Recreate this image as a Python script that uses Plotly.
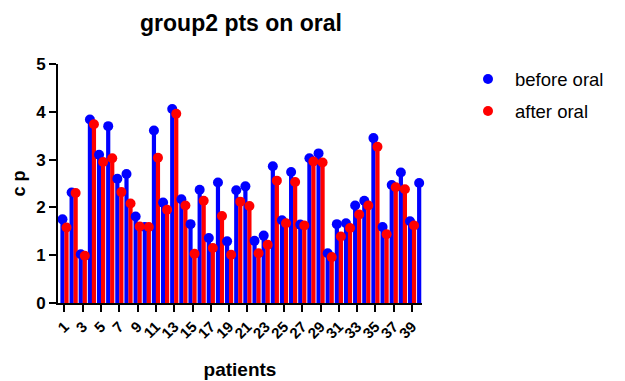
import plotly.graph_objects as go

patients = list(range(1, 41))
before_oral = [1.75, 2.31, 1.02, 3.84, 3.10, 3.70, 2.60, 2.70, 1.81, 1.59,
               3.61, 2.10, 4.06, 2.17, 1.65, 2.37, 1.36, 2.52, 1.29, 2.36,
               2.44, 1.30, 1.41, 2.86, 1.73, 2.74, 1.64, 3.03, 3.13, 1.04,
               1.65, 1.67, 2.04, 2.14, 3.45, 1.59, 2.47, 2.73, 1.71, 2.51]
after_oral = [1.58, 2.30, 0.99, 3.74, 2.95, 3.03, 2.32, 2.08, 1.60, 1.59,
              3.04, 1.95, 3.96, 2.04, 1.03, 2.14, 1.15, 1.82, 1.01, 2.12,
              2.03, 1.04, 1.22, 2.56, 1.67, 2.53, 1.62, 2.96, 2.94, 0.96,
              1.39, 1.57, 1.85, 2.04, 3.27, 1.44, 2.42, 2.38, 1.62, None]
x_tick_vals = list(range(1, 40, 2))
x_tick_text = [str(v) for v in x_tick_vals]
y_tick_vals = [0, 1, 2, 3, 4, 5]

BLUE = "#0000FF"
RED = "#FF0000"
OFF = 0.22
W = 0.46

xb = [p - OFF for p in patients]
xr = [p + OFF for p in patients]

fig = go.Figure()
fig.add_trace(go.Bar(x=xb, y=before_oral, width=W, marker=dict(color=BLUE, line=dict(width=0)),
                     showlegend=False, hoverinfo="skip"))
fig.add_trace(go.Bar(x=xr, y=after_oral, width=W, marker=dict(color=RED, line=dict(width=0)),
                     showlegend=False, hoverinfo="skip"))
fig.add_trace(go.Scatter(x=xb, y=before_oral, mode="markers", name="before oral",
                         marker=dict(color=BLUE, size=10), legendgroup="a", cliponaxis=False))
fig.add_trace(go.Scatter(x=xr, y=after_oral, mode="markers", name="after oral",
                         marker=dict(color=RED, size=10), legendgroup="b", cliponaxis=False))

FONT = "Liberation Sans, Arial, sans-serif"

fig.update_layout(
    width=625, height=381,
    margin=dict(l=58, r=203, t=64, b=78),
    paper_bgcolor="white", plot_bgcolor="white",
    barmode="overlay",
    font=dict(family=FONT, color="black"),
    title=dict(text="<b>group2 pts on oral</b>", x=241 / 625, xanchor="center",
               y=1 - 23 / 381, yanchor="middle", font=dict(size=23, family=FONT, color="black")),
    legend=dict(x=(461 - 58) / 364, xanchor="left", y=1.015, yanchor="top",
                font=dict(size=18.5, family=FONT, color="black"), tracegroupgap=5,
                itemwidth=44, bgcolor="rgba(0,0,0,0)"),
    xaxis=dict(range=[0.29, 40.09], tickmode="array", tickvals=x_tick_vals, ticktext=x_tick_text,
               tickangle=-45, ticks="outside", ticklen=7, tickwidth=2, tickcolor="black",
               showline=True, linecolor="black", linewidth=2, showgrid=False, zeroline=False,
               automargin=False,
               tickfont=dict(size=15, family=FONT, color="black", weight="bold"),
               title=dict(text="<b>patients</b>", font=dict(size=19, family=FONT, color="black"),
                          standoff=22)),
    yaxis=dict(range=[0, 5], tickmode="array", tickvals=y_tick_vals,
               ticks="outside", ticklen=7, tickwidth=2, tickcolor="black",
               showline=True, linecolor="black", linewidth=2, showgrid=False, zeroline=False,
               automargin=False,
               tickfont=dict(size=17, family=FONT, color="black", weight="bold"),
               title=dict(text="<b>c p</b>", font=dict(size=18, family=FONT, color="black"),
                          standoff=6)),
)

fig.write_html("out.html")
